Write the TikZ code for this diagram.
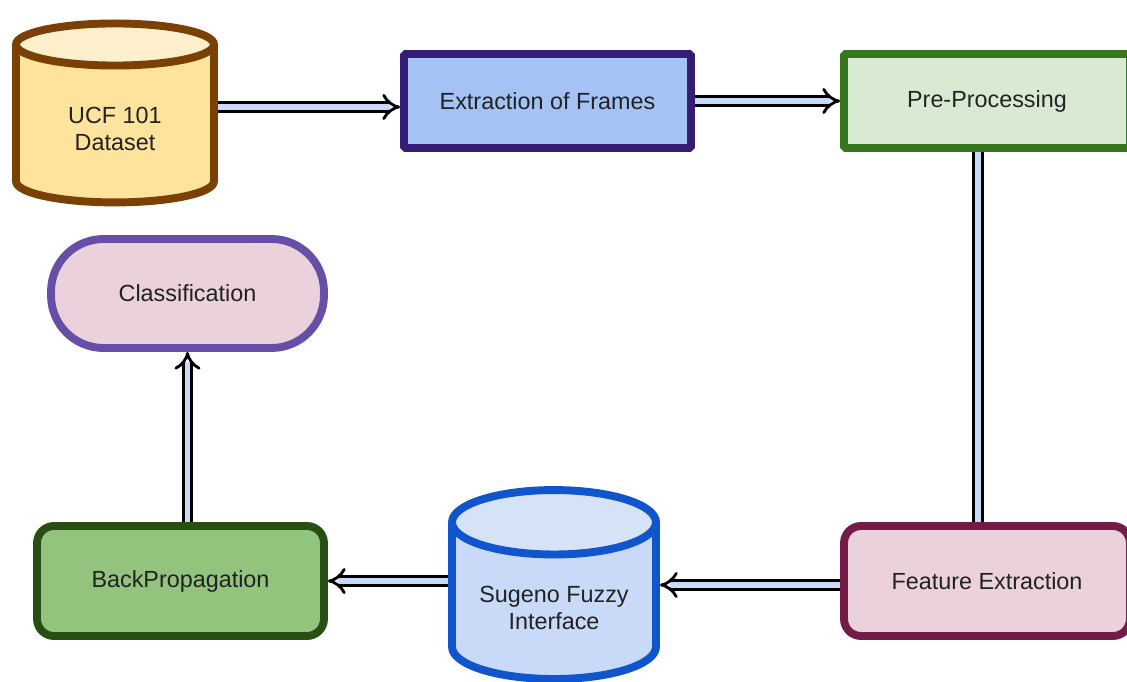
\documentclass[tikz,border=0pt]{standalone}
\usepackage{fontspec}
\setmainfont{Liberation Sans}
\usetikzlibrary{arrows.meta,shapes.geometric,backgrounds}
\definecolor{txt}{HTML}{222222}
\definecolor{ucfline}{HTML}{7A4005}
\definecolor{ucffill}{HTML}{FDE39B}
\definecolor{ucfend}{HTML}{FDEFCB}
\definecolor{frline}{HTML}{351C75}
\definecolor{frfill}{HTML}{A4C2F4}
\definecolor{ppline}{HTML}{38761D}
\definecolor{ppfill}{HTML}{D9EAD3}
\definecolor{feline}{HTML}{741B47}
\definecolor{fefill}{HTML}{EAD1DC}
\definecolor{sgline}{HTML}{1155CC}
\definecolor{sgfill}{HTML}{C9DAF8}
\definecolor{sgend}{HTML}{D6E2F6}
\definecolor{bpline}{HTML}{274E13}
\definecolor{bpfill}{HTML}{93C47D}
\definecolor{clline}{HTML}{674EA7}
\definecolor{clfill}{HTML}{EAD1DC}
\definecolor{arrowfill}{HTML}{C9DAF8}

\begin{document}
\begin{tikzpicture}[x=0.02cm, y=-0.02cm, >=Implies,
  font=\fontsize{13.3}{15.3}\selectfont, text=txt,
  box/.style={draw, line width=4.5pt, align=center, inner sep=2pt},
  drum/.style={cylinder, shape border rotate=90, aspect=0.4, draw, line width=4.5pt, align=center, cylinder uses custom fill},
  flow/.style={draw=black, line width=1.6pt, double=arrowfill, double distance=3.4pt}]
\useasboundingbox (0,0) rectangle (1127,682);
\node[drum, draw=ucfline, cylinder body fill=ucffill, cylinder end fill=ucfend, minimum width=3.96cm, minimum height=3.58cm] (ucf) at (115,129) {UCF 101\\Dataset};
\node[box, draw=frline, fill=frfill, minimum width=5.74cm, minimum height=1.88cm, rounded corners=1pt] (frames) at (547.5,101) {Extraction of Frames};
\node[box, draw=ppline, fill=ppfill, minimum width=5.72cm, minimum height=1.88cm, rounded corners=1pt] (pre) at (987,101) {Pre-Processing};
\node[box, draw=feline, fill=fefill, minimum width=5.72cm, minimum height=2.2cm, rounded corners=0.34cm] (feat) at (987,581) {Feature Extraction};
\node[drum, draw=sgline, cylinder body fill=sgfill, cylinder end fill=sgend, minimum width=4.08cm, minimum height=3.78cm] (fuzzy) at (554,608) {Sugeno Fuzzy\\Interface};
\node[box, draw=bpline, fill=bpfill, minimum width=5.74cm, minimum height=2.2cm, rounded corners=0.34cm] (backprop) at (180.5,581) {BackPropagation};
\node[box, draw=clline, fill=clfill, minimum width=5.46cm, minimum height=2.18cm, rounded corners=1.05cm] (classif) at (187.5,293.5) {Classification};
\begin{scope}[on background layer]
\draw[flow, ->, shorten <=-4pt] ([yshift=0.44cm]ucf.east) -- ([yshift=0.44cm]ucf.east -| frames.west);
\draw[flow, ->, shorten <=-4pt] (frames.east) -- (frames.east -| pre.west);
\draw[flow, shorten <=-4pt, shorten >=-4pt] ([xshift=-0.18cm]pre.south) -- ([xshift=-0.18cm]pre.south |- feat.north);
\draw[flow, ->, shorten <=-4pt] ([yshift=-0.08cm]feat.west) -- ([yshift=-0.08cm]feat.west -| fuzzy.east);
\draw[flow, ->, shorten <=-4pt] (backprop.east -| fuzzy.west) -- (backprop.east);
\draw[flow, ->, shorten <=-4pt] (classif.south |- backprop.north) -- (classif.south);
\end{scope}
\end{tikzpicture}
\end{document}
